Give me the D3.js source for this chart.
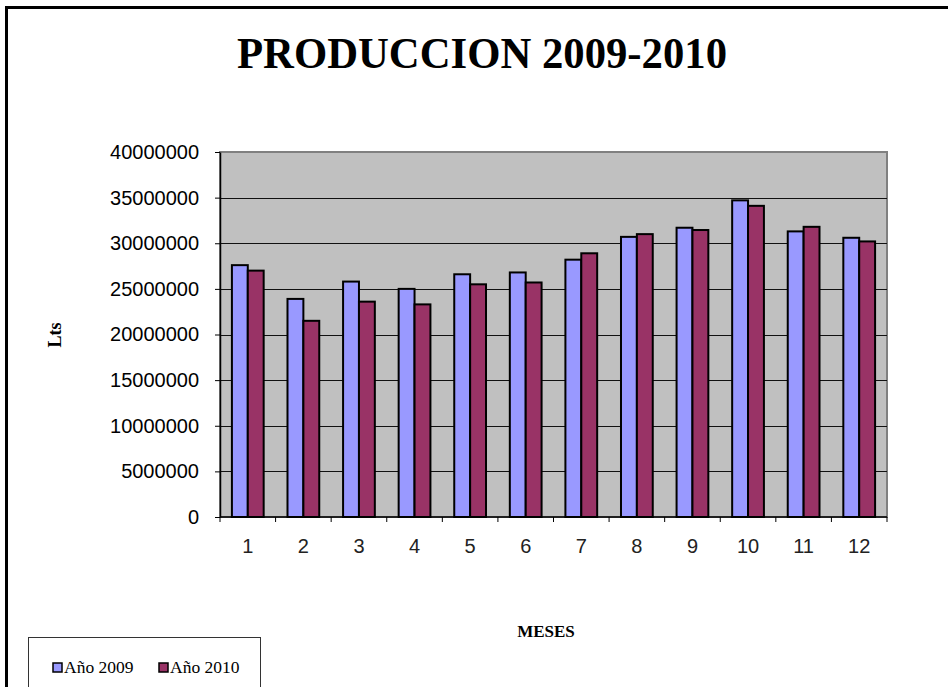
<!DOCTYPE html>
<html>
<head>
<meta charset="utf-8">
<script src="https://d3js.org/d3.v7.min.js"></script>
<style>
  body { margin: 0; background: #fff; }
</style>
</head>
<body>
<div id="chart-area"></div>
<script>
var meses = ["1", "2", "3", "4", "5", "6", "7", "8", "9", "10", "11", "12"];
var series = ["Año 2009", "Año 2010"];
var valores2009 = [27600000, 23900000, 25800000, 25000000, 26600000, 26800000, 28200000, 30700000, 31700000, 34700000, 31300000, 30600000];
var valores2010 = [27000000, 21500000, 23600000, 23300000, 25500000, 25700000, 28900000, 31000000, 31450000, 34100000, 31800000, 30200000];
var yTicks = [0, 5000000, 10000000, 15000000, 20000000, 25000000, 30000000, 35000000, 40000000];
var colores = ["#9999ff", "#993366"];

var width = 948;
var height = 687;

var svg = d3.select("#chart-area")
    .append("svg")
    .attr("width", width)
    .attr("height", height);

// outer frame
svg.append("rect")
    .attr("x", 6.5)
    .attr("y", 7.5)
    .attr("width", 1000)
    .attr("height", 1000)
    .attr("fill", "none")
    .attr("stroke", "#000")
    .attr("stroke-width", 3);

var plot = { left: 220, right: 887, top: 152, bottom: 517 };

var x0 = d3.scaleBand()
    .domain(meses)
    .range([plot.left, plot.right])
    .paddingInner(1.5 / 3.5)
    .paddingOuter(0.75 / 3.5);

var x1 = d3.scaleBand()
    .domain(series)
    .range([0, x0.bandwidth()]);

var xb = d3.scaleLinear()
    .domain([0, meses.length])
    .range([plot.left, plot.right]);

var y = d3.scaleLinear()
    .domain([0, 40000000])
    .range([plot.bottom, plot.top]);

// plot background
svg.append("rect")
    .attr("x", plot.left)
    .attr("y", plot.top)
    .attr("width", plot.right - plot.left)
    .attr("height", plot.bottom - plot.top)
    .attr("fill", "#c0c0c0")
    .attr("stroke", "#808080")
    .attr("stroke-width", 2);

// gridlines
svg.selectAll(".grid")
    .data(yTicks.slice(1, -1))
    .enter()
    .append("line")
    .attr("x1", plot.left)
    .attr("x2", plot.right)
    .attr("y1", function(d) { return Math.round(y(d)) + 0.5; })
    .attr("y2", function(d) { return Math.round(y(d)) + 0.5; })
    .attr("stroke", "#111")
    .attr("stroke-width", 1.2);

// bars
var datos = meses.map(function(m, i) {
    return { mes: m, vals: [valores2009[i], valores2010[i]] };
});

var grupos = svg.selectAll(".grupo")
    .data(datos)
    .enter()
    .append("g")
    .attr("transform", function(d) { return "translate(" + x0(d.mes) + ",0)"; });

grupos.selectAll("rect")
    .data(function(d) {
        return d.vals.map(function(v, j) { return { serie: series[j], valor: v, j: j }; });
    })
    .enter()
    .append("rect")
    .attr("x", function(d) { return x1(d.serie); })
    .attr("y", function(d) { return y(d.valor); })
    .attr("width", x1.bandwidth())
    .attr("height", function(d) { return plot.bottom - y(d.valor); })
    .attr("fill", function(d) { return colores[d.j]; })
    .attr("stroke", "#000")
    .attr("stroke-width", 2);

// y axis
var yAxis = svg.append("g")
    .attr("transform", "translate(" + plot.left + ",0)")
    .call(d3.axisLeft(y).tickValues(yTicks).tickSize(5).tickSizeOuter(0).tickPadding(16)
        .tickFormat(function(d) { return d; }));
yAxis.select(".domain").attr("stroke", "#000").attr("stroke-width", 1.5);
yAxis.selectAll(".tick line").attr("stroke", "#000");
yAxis.selectAll("text")
    .attr("font-family", "Liberation Sans, Arial, sans-serif")
    .attr("font-size", 20)
    .attr("fill", "#000");

// x axis line and ticks between categories
svg.append("line")
    .attr("x1", plot.left)
    .attr("x2", plot.right)
    .attr("y1", plot.bottom)
    .attr("y2", plot.bottom)
    .attr("stroke", "#000")
    .attr("stroke-width", 1.5);

svg.selectAll(".xtick")
    .data(d3.range(meses.length + 1))
    .enter()
    .append("line")
    .attr("x1", function(d) { return xb(d); })
    .attr("x2", function(d) { return xb(d); })
    .attr("y1", plot.bottom)
    .attr("y2", plot.bottom + 5)
    .attr("stroke", "#000");

svg.selectAll(".xlabel")
    .data(meses)
    .enter()
    .append("text")
    .attr("x", function(d) { return x0(d) + x0.bandwidth() / 2; })
    .attr("y", 553)
    .attr("text-anchor", "middle")
    .attr("font-family", "Liberation Sans, Arial, sans-serif")
    .attr("font-size", 20)
    .attr("fill", "#222")
    .text(function(d) { return d; });

// title
svg.append("text")
    .attr("x", 482)
    .attr("y", 68)
    .attr("text-anchor", "middle")
    .attr("font-family", "Liberation Serif, Times New Roman, serif")
    .attr("font-weight", "bold")
    .attr("font-size", 45)
    .attr("textLength", 490)
    .attr("lengthAdjust", "spacingAndGlyphs")
    .text("PRODUCCION 2009-2010");

// axis titles
svg.append("text")
    .attr("transform", "translate(61,335) rotate(-90)")
    .attr("text-anchor", "middle")
    .attr("font-family", "Liberation Serif, Times New Roman, serif")
    .attr("font-weight", "bold")
    .attr("font-size", 18)
    .text("Lts");

svg.append("text")
    .attr("x", 546)
    .attr("y", 637)
    .attr("text-anchor", "middle")
    .attr("font-family", "Liberation Serif, Times New Roman, serif")
    .attr("font-weight", "bold")
    .attr("font-size", 17)
    .text("MESES");

// legend
svg.append("rect")
    .attr("x", 28.5)
    .attr("y", 637.5)
    .attr("width", 232)
    .attr("height", 80)
    .attr("fill", "#fff")
    .attr("stroke", "#333")
    .attr("stroke-width", 1);

var leyenda = svg.selectAll(".leyenda")
    .data(series)
    .enter()
    .append("g")
    .attr("transform", function(d, i) { return "translate(" + (53 + i * 106) + ",663)"; });

leyenda.append("rect")
    .attr("width", 9)
    .attr("height", 9)
    .attr("fill", function(d, i) { return colores[i]; })
    .attr("stroke", "#000")
    .attr("stroke-width", 1.5);

leyenda.append("text")
    .attr("x", 11)
    .attr("y", 10)
    .attr("font-family", "Liberation Serif, Times New Roman, serif")
    .attr("font-size", 17.5)
    .text(function(d) { return d; });
</script>
</body>
</html>
